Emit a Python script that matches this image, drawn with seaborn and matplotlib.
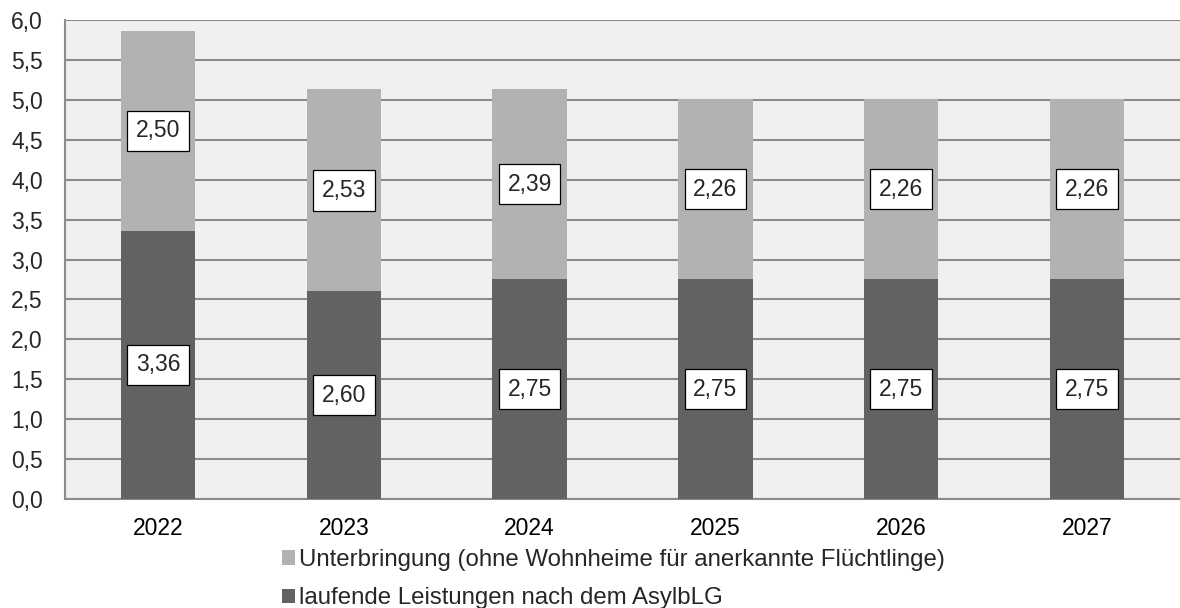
import matplotlib
matplotlib.use("Agg")
import matplotlib.pyplot as plt
import seaborn as sns
import pandas as pd
from matplotlib.patches import Patch
from matplotlib.ticker import FixedLocator, FuncFormatter

years = ["2022", "2023", "2024", "2025", "2026", "2027"]
laufende = [3.36, 2.60, 2.75, 2.75, 2.75, 2.75]
unterbringung = [2.50, 2.53, 2.39, 2.26, 2.26, 2.26]
label_top = "Unterbringung (ohne Wohnheime für anerkannte Flüchtlinge)"
label_bottom = "laufende Leistungen nach dem AsylbLG"

sns.set_style("white")
plt.rcParams["font.family"] = ["Liberation Sans", "DejaVu Sans"]

c_light = "#b2b2b2"
c_dark = "#626262"
grid_c = "#8c8c8c"
fs = 16.5

df = pd.DataFrame({"year": years, "laufende": laufende, "unterbringung": unterbringung})
df["total"] = df["laufende"] + df["unterbringung"]

fig = plt.figure(figsize=(11.8, 6.08), dpi=100)
ax = fig.add_axes([65 / 1180, 1 - 499 / 608, 1 - 65 / 1180, (499 - 20) / 608])
ax.set_facecolor("#f0f0f0")

sns.barplot(data=df, x="year", y="total", color=c_light, width=0.4, ax=ax,
            saturation=1, errorbar=None, zorder=3, linewidth=0, edgecolor="none")
sns.barplot(data=df, x="year", y="laufende", color=c_dark, width=0.4, ax=ax,
            saturation=1, errorbar=None, zorder=3, linewidth=0, edgecolor="none")

ax.set_ylim(0, 6.0)
ax.set_xlim(-0.5, len(years) - 0.5)
ax.set_yticks([i * 0.5 for i in range(13)])
ax.yaxis.set_major_formatter(FuncFormatter(lambda v, p: f"{v:.1f}".replace(".", ",")))
ax.yaxis.grid(True, color=grid_c, linewidth=1.5, zorder=0)
ax.set_axisbelow(True)

ax.set_xlabel("")
ax.set_ylabel("")
ax.tick_params(axis="x", which="major", length=0, labelsize=fs, pad=13, colors="black")
ax.xaxis.set_minor_locator(FixedLocator([i - 0.5 for i in range(len(years) + 1)]))
ax.tick_params(axis="x", which="minor", length=6, width=1.2, color=grid_c, direction="out")
ax.tick_params(axis="y", length=6, width=1.2, color=grid_c, labelsize=fs, pad=10, direction="out")

for s in ["top", "right"]:
    ax.spines[s].set_visible(False)
for s in ["left", "bottom"]:
    ax.spines[s].set_color(grid_c)
    ax.spines[s].set_linewidth(1.5)

box = dict(boxstyle="square,pad=0.38", facecolor="white", edgecolor="black", linewidth=0.9)
for i, (lo, up) in enumerate(zip(laufende, unterbringung)):
    ax.text(i, lo / 2, f"{lo:.2f}".replace(".", ","), ha="center", va="center",
            fontsize=fs, bbox=box, zorder=5)
    ax.text(i, lo + up / 2, f"{up:.2f}".replace(".", ","), ha="center", va="center",
            fontsize=fs, bbox=box, zorder=5)

handles = [Patch(facecolor=c_light, edgecolor="none"), Patch(facecolor=c_dark, edgecolor="none")]
fig.legend(handles, [label_top, label_bottom], loc="upper left",
           bbox_to_anchor=(282 / 1180, 1 - 549 / 608), frameon=False, fontsize=17.3,
           handlelength=0.55, handleheight=0.55, handletextpad=0.15, labelspacing=0.68,
           borderaxespad=0, borderpad=0)

fig.savefig("out.png", dpi=100)
